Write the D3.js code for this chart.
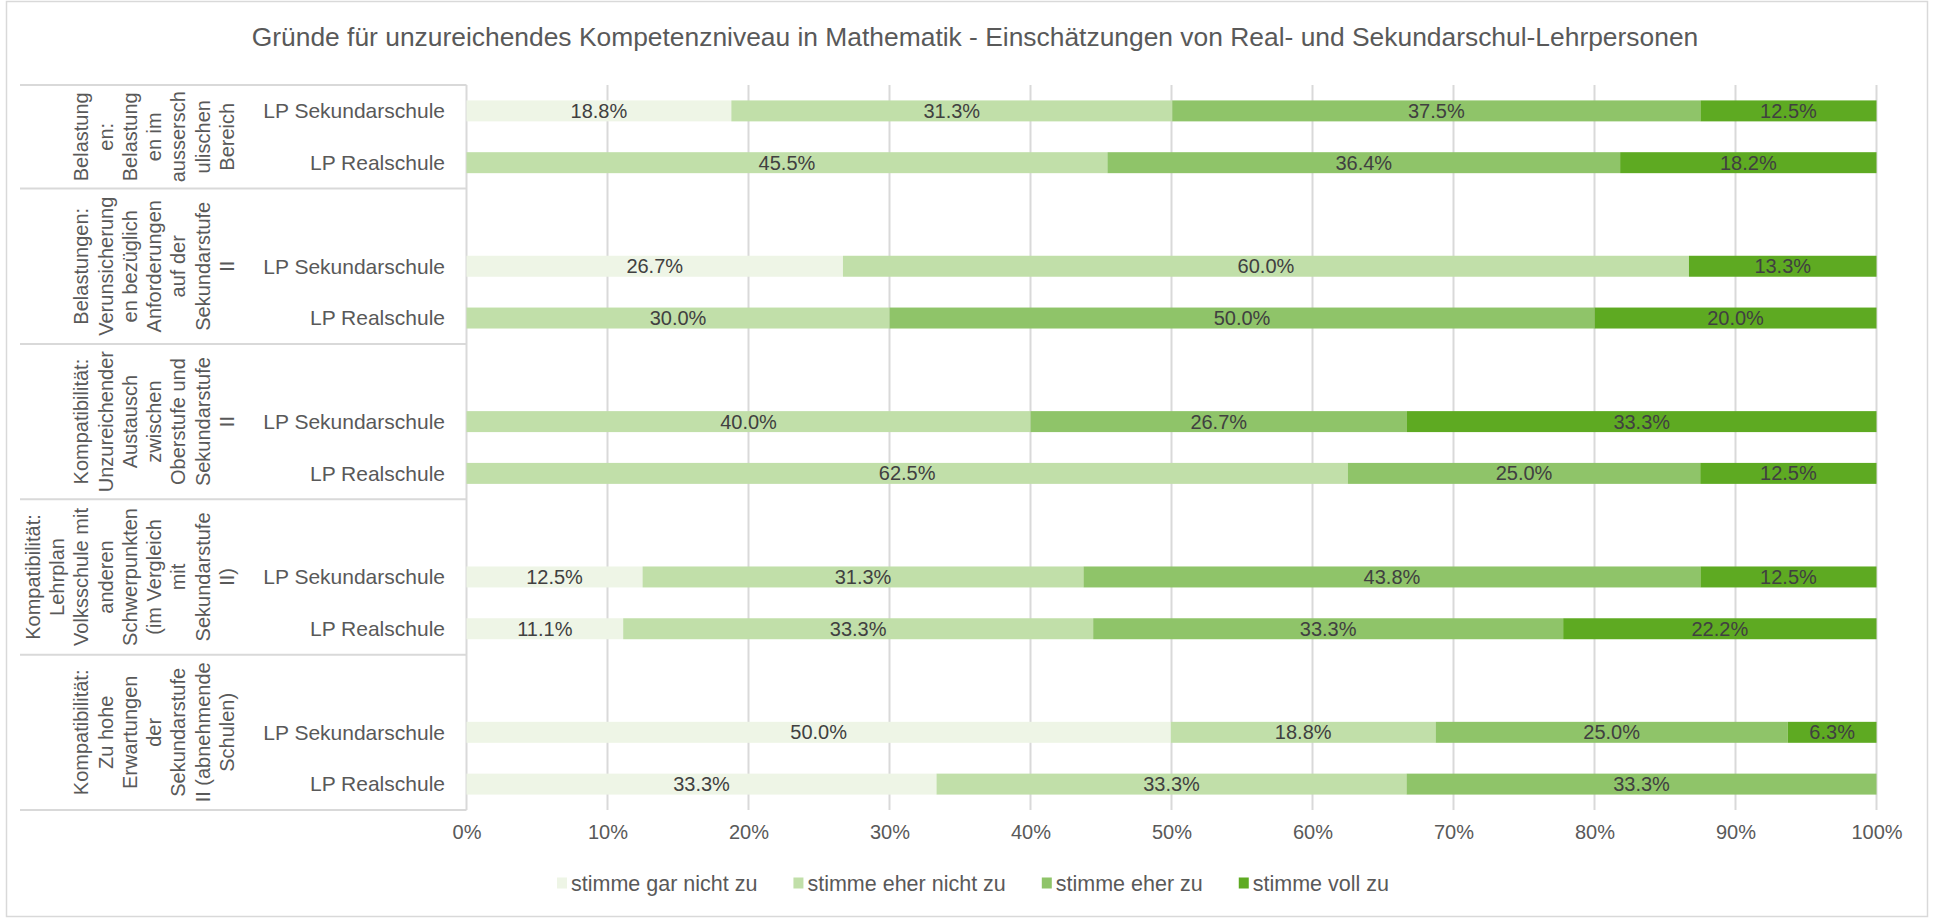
<!DOCTYPE html>
<html>
<head>
<meta charset="utf-8">
<script src="https://cdn.jsdelivr.net/npm/d3@7"></script>
<style>
  body { margin: 0; background: #fff; }
  svg text { font-family: "Liberation Sans", Arial, sans-serif; }
</style>
</head>
<body>
<svg id="chart" width="1933" height="919"></svg>
<script>
// group labels (line breaks as in the original axis)
const groupLabels = [
  ["Belastung", "en:", "Belastung", "en im", "aussersch", "ulischen", "Bereich"],
  ["Belastungen:", "Verunsicherung", "en bezüglich", "Anforderungen", "auf der", "Sekundarstufe", "II"],
  ["Kompatibilität:", "Unzureichender", "Austausch", "zwischen", "Oberstufe und", "Sekundarstufe", "II"],
  ["Kompatibilität:", "Lehrplan", "Volksschule mit", "anderen", "Schwerpunkten", "(im Vergleich", "mit", "Sekundarstufe", "II)"],
  ["Kompatibilität:", "Zu hohe", "Erwartungen", "der", "Sekundarstufe", "II (abnehmende", "Schulen)"]
];
const schools = ["LP Sekundarschule", "LP Realschule"];
const answers = ["stimme gar nicht zu", "stimme eher nicht zu", "stimme eher zu", "stimme voll zu"];

// values per row: group1 Sek, group1 Real, group2 Sek, ...
const garNicht  = [18.8, 0,    26.7, 0,    0,    0,    12.5, 11.1, 50.0, 33.3];
const eherNicht = [31.3, 45.5, 60.0, 30.0, 40.0, 62.5, 31.3, 33.3, 18.8, 33.3];
const eherZu    = [37.5, 36.4, 0,    50.0, 26.7, 25.0, 43.8, 33.3, 25.0, 33.3];
const vollZu    = [12.5, 18.2, 13.3, 20.0, 33.3, 12.5, 12.5, 22.2, 6.3,  0];

const colors = ["#EEF5E6", "#C1DFA9", "#8FC469", "#5EAA22"];
const textColor = "#595959";
const labelColor = "#404040";
const gridColor = "#D9D9D9";

let svg = d3.select("#chart");

let plotLeft = 466.5, plotRight = 1876.5, plotTop = 85, plotBottom = 810;

// rows incl. the blank spacer row Excel puts at the top of every group after the first
let rows = [];
let seriesSets = [garNicht, eherNicht, eherZu, vollZu];
groupLabels.forEach((g, gi) => {
  if (gi > 0) rows.push({ key: "blank" + gi, group: gi, blank: true });
  schools.forEach((s, si) => {
    let idx = gi * 2 + si;
    let row = { key: "g" + gi + "s" + si, group: gi, school: s, blank: false };
    answers.forEach((a, ai) => { row[a] = seriesSets[ai][idx]; });
    rows.push(row);
  });
});
let dataRows = rows.filter(r => !r.blank);

let pad = 0.595;
let y = d3.scaleBand()
  .domain(rows.map(r => r.key))
  .range([plotTop, plotBottom])
  .paddingInner(pad)
  .paddingOuter(pad / 2);

let x = d3.scaleLinear().domain([0, 1]).range([plotLeft, plotRight]);

let slotTop = key => y(key) - (y.step() - y.bandwidth()) / 2;

// chart border
svg.append("rect")
  .attr("x", 6.5).attr("y", 1.5)
  .attr("width", 1921).attr("height", 915)
  .style("fill", "none").style("stroke", gridColor).style("stroke-width", 1.5);

// title
svg.append("text")
  .attr("x", 975)
  .attr("y", 46)
  .text("Gründe für unzureichendes Kompetenzniveau in Mathematik - Einschätzungen von Real- und Sekundarschul-Lehrpersonen")
  .style("text-anchor", "middle")
  .style("font-size", "26.4px")
  .style("fill", textColor);

// vertical gridlines
svg.append("g").selectAll("line")
  .data(d3.range(0, 11).map(i => i / 10))
  .join("line")
  .attr("x1", d => x(d)).attr("x2", d => x(d))
  .attr("y1", plotTop).attr("y2", plotBottom)
  .style("stroke", gridColor).style("stroke-width", 2);

// x axis tick labels
let xAxis = d3.axisBottom(x)
  .tickValues(d3.range(0, 11).map(i => i / 10))
  .tickFormat(d3.format(".0%"))
  .tickSize(0)
  .tickPadding(0);
let xg = svg.append("g")
  .attr("transform", "translate(0," + 825 + ")")
  .call(xAxis);
xg.select(".domain").remove();
xg.selectAll("text")
  .style("font-family", "Liberation Sans, Arial, sans-serif")
  .style("font-size", "20px")
  .style("fill", textColor);

// group separators on the category axis
let groupTops = groupLabels.map((g, gi) => slotTop(rows.find(r => r.group === gi).key));
let separators = groupTops.concat([plotBottom]);
svg.append("g").selectAll("line")
  .data(separators)
  .join("line")
  .attr("x1", 20).attr("x2", plotLeft)
  .attr("y1", d => d).attr("y2", d => d)
  .style("stroke", gridColor).style("stroke-width", 2);

// group labels, rotated
groupLabels.forEach((lines, gi) => {
  let cy = (separators[gi] + separators[gi + 1]) / 2;
  let n = lines.length;
  lines.forEach((line, li) => {
    let bx = 234 - (n - 1 - li) * 24.3;
    svg.append("text")
      .attr("transform", "translate(" + bx + "," + cy + ") rotate(-90)")
      .text(line)
      .style("text-anchor", "middle")
      .style("font-size", "20px")
      .style("fill", textColor);
  });
});

// school labels
svg.append("g").selectAll("text")
  .data(dataRows)
  .join("text")
  .attr("x", 445)
  .attr("y", d => y(d.key) + y.bandwidth() / 2)
  .attr("dy", "0.35em")
  .text(d => d.school)
  .style("text-anchor", "end")
  .style("font-size", "21px")
  .style("fill", textColor);

// 100% stacked bars
let stack = d3.stack().keys(answers).offset(d3.stackOffsetExpand);
let series = stack(dataRows);

let layers = svg.append("g").selectAll("g")
  .data(series)
  .join("g")
  .style("fill", (d, i) => colors[i]);

layers.selectAll("rect")
  .data(d => d)
  .join("rect")
  .attr("x", d => x(d[0]))
  .attr("y", d => y(d.data.key))
  .attr("width", d => x(d[1]) - x(d[0]))
  .attr("height", y.bandwidth());

// data labels
layers.selectAll("text")
  .data(d => d.filter(p => p.data[d.key] > 0).map(p => ({ p: p, value: p.data[d.key] })))
  .join("text")
  .attr("x", d => (x(d.p[0]) + x(d.p[1])) / 2)
  .attr("y", d => y(d.p.data.key) + y.bandwidth() / 2)
  .attr("dy", "0.35em")
  .text(d => d3.format(".1f")(d.value) + "%")
  .style("text-anchor", "middle")
  .style("font-size", "20px")
  .style("fill", labelColor);

// legend
let legend = svg.append("g");
let items = legend.selectAll("g")
  .data(answers)
  .join("g");
items.append("rect")
  .attr("width", 10).attr("height", 11)
  .attr("y", -5.5)
  .style("fill", (d, i) => colors[i]);
items.append("text")
  .attr("x", 14)
  .attr("dy", "0.35em")
  .text(d => d)
  .style("font-size", "21.5px")
  .style("fill", textColor);
let offsets = [];
let offset = 0;
items.each(function() {
  offsets.push(offset);
  offset += this.getBBox().width + 36;
});
let total = offset - 36;
items.attr("transform", (d, i) => "translate(" + (973 - total / 2 + offsets[i]) + "," + 883 + ")");
</script>
</body>
</html>
